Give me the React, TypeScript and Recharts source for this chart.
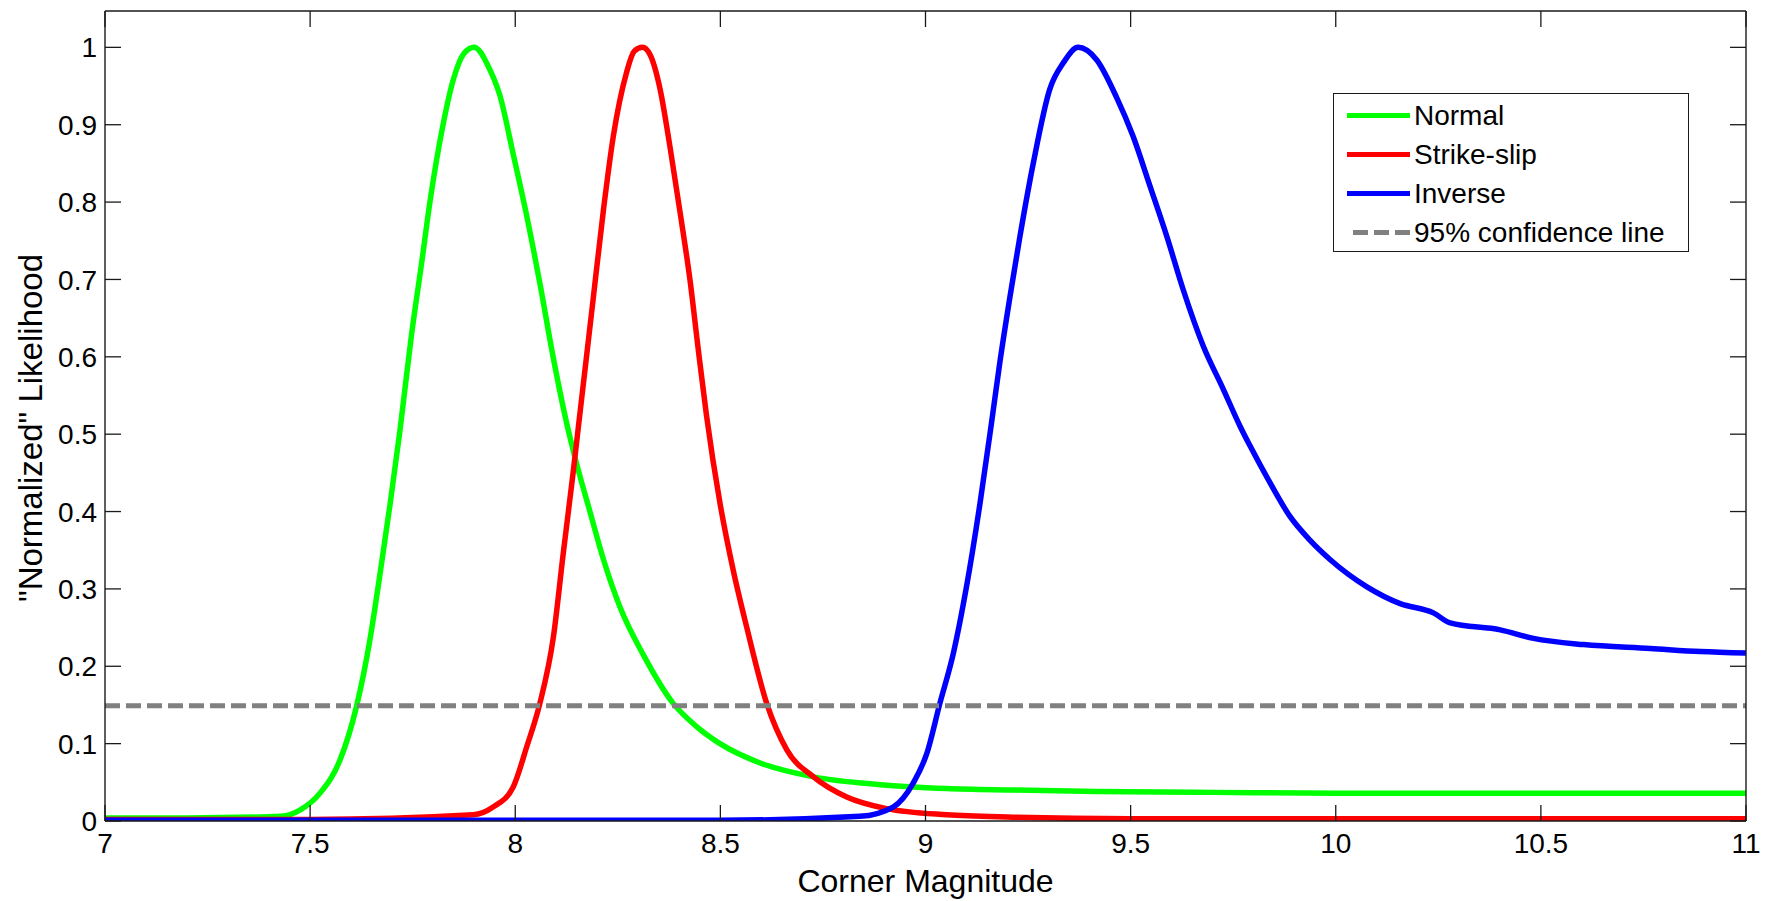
import React from 'react';
import { LineChart, Line, XAxis, YAxis, Legend } from 'recharts';

// ---- data ----
const normalX = [7.0, 7.2, 7.43, 7.475, 7.524, 7.573, 7.613, 7.646, 7.67, 7.695, 7.719, 7.747, 7.772, 7.792, 7.824, 7.85, 7.875, 7.9, 7.915, 7.93, 7.963, 7.995, 8.028, 8.06, 8.093, 8.125, 8.15, 8.182, 8.215, 8.255, 8.312, 8.385, 8.442, 8.499, 8.597, 8.727, 8.889, 9.052, 9.214, 9.417, 9.7, 10.0, 10.5, 11.0];
const normalY = [0.004, 0.004, 0.006, 0.014, 0.036, 0.079, 0.148, 0.235, 0.318, 0.41, 0.505, 0.628, 0.722, 0.8, 0.9, 0.96, 0.992, 1.0, 0.994, 0.98, 0.937, 0.862, 0.782, 0.695, 0.598, 0.515, 0.461, 0.4, 0.338, 0.277, 0.215, 0.152, 0.122, 0.1, 0.075, 0.057, 0.047, 0.042, 0.04, 0.038, 0.037, 0.036, 0.036, 0.036];

const strikeX = [7.0, 7.5, 7.898, 7.946, 7.995, 8.028, 8.06, 8.093, 8.117, 8.141, 8.154, 8.166, 8.19, 8.215, 8.239, 8.271, 8.29, 8.31, 8.329, 8.353, 8.377, 8.402, 8.426, 8.446, 8.466, 8.499, 8.531, 8.564, 8.613, 8.662, 8.727, 8.808, 8.905, 9.052, 9.214, 9.5, 10.0, 11.0];
const strikeY = [0.002, 0.002, 0.008, 0.018, 0.044, 0.096, 0.152, 0.238, 0.346, 0.45, 0.51, 0.565, 0.675, 0.79, 0.885, 0.967, 0.995, 1.0, 0.99, 0.946, 0.872, 0.786, 0.699, 0.61, 0.525, 0.411, 0.325, 0.251, 0.152, 0.092, 0.057, 0.031, 0.016, 0.008, 0.005, 0.003, 0.003, 0.003];

const inverseX = [7.0, 8.5, 8.84, 8.921, 8.97, 9.003, 9.035, 9.068, 9.1, 9.133, 9.161, 9.181, 9.206, 9.23, 9.263, 9.303, 9.336, 9.372, 9.417, 9.466, 9.506, 9.547, 9.588, 9.628, 9.677, 9.726, 9.767, 9.791, 9.84, 9.888, 9.937, 9.986, 10.075, 10.157, 10.238, 10.279, 10.401, 10.482, 10.604, 10.767, 10.889, 11.0];
const inverseY = [0.001, 0.001, 0.006, 0.018, 0.049, 0.087, 0.152, 0.217, 0.303, 0.411, 0.515, 0.592, 0.678, 0.755, 0.851, 0.946, 0.98, 1.0, 0.984, 0.935, 0.885, 0.821, 0.756, 0.687, 0.614, 0.558, 0.51, 0.485, 0.437, 0.394, 0.363, 0.338, 0.303, 0.281, 0.269, 0.256, 0.247, 0.236, 0.228, 0.223, 0.219, 0.217];

const confidenceX = [7.0, 11.0];
const confidenceY = [0.149, 0.149];

const xTicks = [7, 7.5, 8, 8.5, 9, 9.5, 10, 10.5, 11];
const yTicks = [0, 0.1, 0.2, 0.3, 0.4, 0.5, 0.6, 0.7, 0.8, 0.9, 1];

const seriesNames = ['Normal', 'Strike-slip', 'Inverse', '95% confidence line'];
const seriesColors = ['#00ff00', '#ff0000', '#0000ff', '#808080'];
const seriesDash = ['', '', '', '15 6'];

const zip = (xs: number[], ys: number[]) => xs.map((x, i) => ({ x, y: ys[i] }));
const normalData = zip(normalX, normalY);
const strikeData = zip(strikeX, strikeY);
const inverseData = zip(inverseX, inverseY);
const confidenceData = zip(confidenceX, confidenceY);

const FONT = '"Liberation Sans", Arial, Helvetica, sans-serif';
const AX = '#1a1a1a';
const TL = 16;

const BottomTick = (p: any) => (
  <g>
    <line x1={p.x} y1={p.y} x2={p.x} y2={p.y - TL} stroke={AX} strokeWidth={1.3} />
    <text x={p.x} y={p.y + 32} textAnchor="middle" fontFamily={FONT} fontSize={28} fill="#000">
      {String(p.payload.value)}
    </text>
  </g>
);
const TopTick = (p: any) => (
  <line x1={p.x} y1={p.y} x2={p.x} y2={p.y + TL} stroke={AX} strokeWidth={1.3} />
);
const LeftTick = (p: any) => (
  <g>
    <line x1={p.x} y1={p.y} x2={p.x + TL} y2={p.y} stroke={AX} strokeWidth={1.3} />
    <text x={p.x - 8} y={p.y} dy="0.36em" textAnchor="end" fontFamily={FONT} fontSize={28} fill="#000">
      {String(Math.round(p.payload.value * 10) / 10)}
    </text>
  </g>
);
const RightTick = (p: any) => (
  <line x1={p.x} y1={p.y} x2={p.x - TL} y2={p.y} stroke={AX} strokeWidth={1.3} />
);

const LegendBox = () => (
  <div
    style={{
      width: 356,
      height: 159,
      border: `1.4px solid ${AX}`,
      background: '#fff',
      boxSizing: 'border-box',
      paddingTop: 2,
      fontFamily: FONT,
      fontSize: 28,
      color: '#000',
    }}
  >
    {seriesNames.map((n, i) => (
      <div key={n} style={{ height: 39, display: 'flex', alignItems: 'center' }}>
        <svg width={80} height={39} style={{ display: 'block' }}>
          <line
            x1={i === 3 ? 19 : 13}
            x2={76}
            y1={19.5}
            y2={19.5}
            stroke={seriesColors[i]}
            strokeWidth={5}
            strokeDasharray={seriesDash[i] || undefined}
          />
        </svg>
        <span style={{ whiteSpace: 'nowrap', lineHeight: '39px' }}>{n}</span>
      </div>
    ))}
  </div>
);

export default function App() {
  return (
    <div style={{ position: 'relative', width: 1767, height: 901, background: '#fff' }}>
      <style>{`body{margin:0;background:#fff}`}</style>
      <LineChart
        width={1767}
        height={901}
        margin={{ top: 10, right: 20, bottom: 79, left: 65 }}
        style={{ background: '#fff' }}
      >
        <XAxis
          xAxisId="b"
          type="number"
          dataKey="x"
          domain={[7, 11]}
          ticks={xTicks}
          interval={0}
          allowDataOverflow
          height={1}
          tickSize={0}
          tickMargin={0}
          tickLine={false}
          axisLine={{ stroke: AX, strokeWidth: 1.4 }}
          tick={BottomTick}
          label={{
            content: (lp: any) => {
              const vb = lp.viewBox || { x: 105, y: 821, width: 1641 };
              return (
                <text x={vb.x + vb.width / 2} y={vb.y + 71} textAnchor="middle" fontFamily={FONT} fontSize={32} fill="#000">
                  Corner Magnitude
                </text>
              );
            },
          }}
        />
        <XAxis
          xAxisId="t"
          orientation="top"
          type="number"
          dataKey="x"
          domain={[7, 11]}
          ticks={xTicks}
          interval={0}
          allowDataOverflow
          height={1}
          tickSize={0}
          tickMargin={0}
          tickLine={false}
          axisLine={{ stroke: AX, strokeWidth: 1.4 }}
          tick={TopTick}
        />
        <YAxis
          yAxisId="l"
          type="number"
          domain={[0, 1.047]}
          ticks={yTicks}
          interval={0}
          allowDataOverflow
          width={40}
          tickSize={0}
          tickMargin={0}
          tickLine={false}
          axisLine={{ stroke: AX, strokeWidth: 1.4 }}
          tick={LeftTick}
          label={{
            content: (lp: any) => {
              const vb = lp.viewBox || { x: 65, y: 11, height: 810 };
              const cy = vb.y + vb.height / 2 + 12;
              return (
                <text
                  x={0}
                  y={0}
                  transform={`translate(42, ${cy}) rotate(-90)`}
                  textAnchor="middle"
                  fontFamily={FONT}
                  fontSize={33}
                  fill="#000"
                >
                  "Normalized" Likelihood
                </text>
              );
            },
          }}
        />
        <YAxis
          yAxisId="r"
          orientation="right"
          type="number"
          domain={[0, 1.047]}
          ticks={yTicks}
          interval={0}
          allowDataOverflow
          width={1}
          tickSize={0}
          tickMargin={0}
          tickLine={false}
          axisLine={{ stroke: AX, strokeWidth: 1.4 }}
          tick={RightTick}
        />
        <Line xAxisId="b" yAxisId="l" data={normalData} dataKey="y" name={seriesNames[0]} stroke={seriesColors[0]} strokeWidth={5.5} dot={false} type="monotone" isAnimationActive={false} />
        <Line xAxisId="b" yAxisId="l" data={strikeData} dataKey="y" name={seriesNames[1]} stroke={seriesColors[1]} strokeWidth={5.5} dot={false} type="monotone" isAnimationActive={false} />
        <Line xAxisId="b" yAxisId="l" data={inverseData} dataKey="y" name={seriesNames[2]} stroke={seriesColors[2]} strokeWidth={5.5} dot={false} type="monotone" isAnimationActive={false} />
        <Line xAxisId="b" yAxisId="l" data={confidenceData} dataKey="y" name={seriesNames[3]} stroke={seriesColors[3]} strokeWidth={5} strokeDasharray={seriesDash[3]} dot={false} type="linear" isAnimationActive={false} />
        <Legend
          layout="vertical"
          align="center"
          verticalAlign="middle"
          content={() => <LegendBox />}
          wrapperStyle={{ position: 'absolute', left: 1333, top: 93, width: 358, height: 161, margin: 0, padding: 0 }}
        />
      </LineChart>
    </div>
  );
}
